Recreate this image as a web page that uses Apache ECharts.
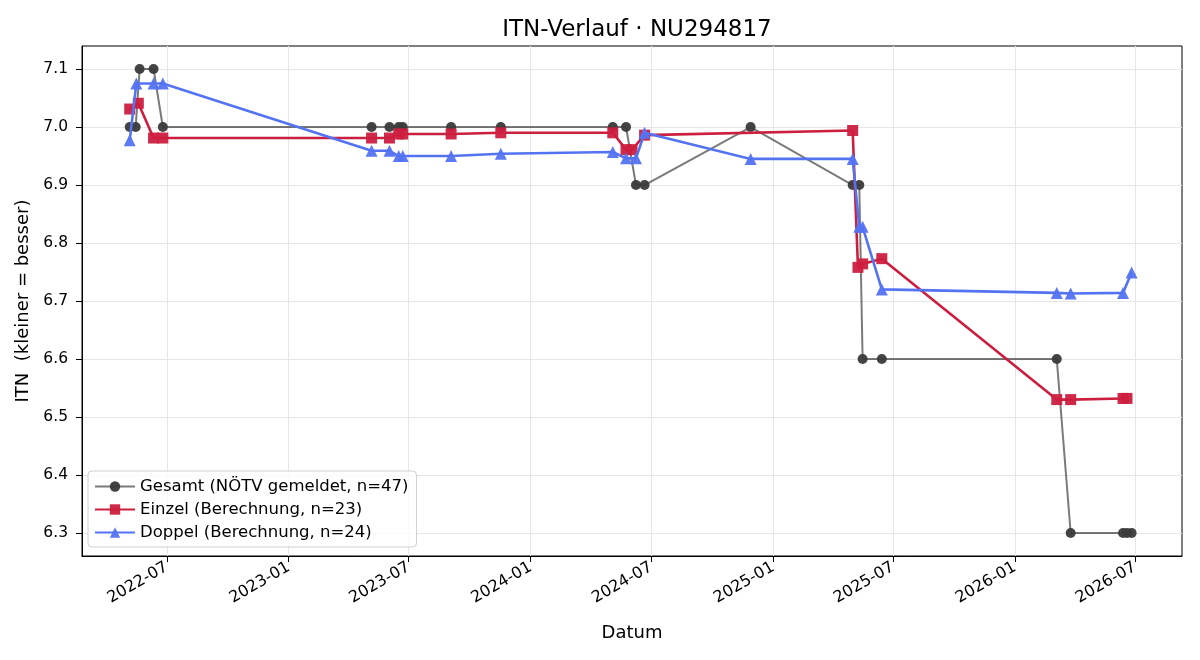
<!DOCTYPE html>
<html>
<head>
<meta charset="utf-8">
<script src="https://cdn.jsdelivr.net/npm/echarts@6/dist/echarts.min.js"></script>
<style>html,body{margin:0;padding:0;background:#fff;}#c{width:1200px;height:660px;}</style>
</head>
<body>
<div id="c"></div>
<script>
const gesamtDates = ['2022-05-06','2022-05-15','2022-05-21','2022-06-11','2022-06-25','2023-05-06','2023-06-02','2023-06-16','2023-06-22','2023-09-03','2023-11-17','2024-05-04','2024-05-24','2024-06-08','2024-06-21','2024-11-28','2025-05-01','2025-05-11','2025-05-16','2025-06-14','2026-03-05','2026-03-26','2026-06-13','2026-06-19','2026-06-26'];
const gesamtValues = [7.0,7.0,7.1,7.1,7.0,7.0,7.0,7.0,7.0,7.0,7.0,7.0,7.0,6.9,6.9,7.0,6.9,6.9,6.6,6.6,6.6,6.3,6.3,6.3,6.3];

const einzelDates = ['2022-05-06','2022-05-19','2022-06-11','2022-06-25','2023-05-06','2023-06-02','2023-06-16','2023-06-22','2023-09-03','2023-11-17','2024-05-04','2024-05-24','2024-06-02','2024-06-21','2025-05-01','2025-05-09','2025-05-16','2025-06-14','2026-03-05','2026-03-26','2026-06-13','2026-06-19'];
const einzelValues = [7.031,7.041,6.981,6.981,6.981,6.981,6.988,6.988,6.988,6.990,6.990,6.961,6.961,6.986,6.994,6.758,6.764,6.773,6.530,6.530,6.532,6.532];

const doppelDates = ['2022-05-06','2022-05-16','2022-06-11','2022-06-25','2023-05-06','2023-06-02','2023-06-16','2023-06-22','2023-09-03','2023-11-17','2024-05-04','2024-05-24','2024-06-08','2024-06-21','2024-11-28','2025-05-01','2025-05-11','2025-05-16','2025-06-14','2026-03-05','2026-03-26','2026-06-13','2026-06-26'];
const doppelValues = [6.977,7.075,7.075,7.075,6.959,6.959,6.950,6.950,6.950,6.954,6.957,6.946,6.946,6.990,6.945,6.945,6.828,6.828,6.720,6.714,6.713,6.714,6.749];

const xTickLabels = ['2022-07-01','2023-01-01','2023-07-01','2024-01-01','2024-07-01','2025-01-01','2025-07-01','2026-01-01','2026-07-01'];
const yTickLabels = [6.3,6.4,6.5,6.6,6.7,6.8,6.9,7.0,7.1];

const seriesNames = ['Gesamt (NÖTV gemeldet, n=47)','Einzel (Berechnung, n=23)','Doppel (Berechnung, n=24)'];

const ts = d => new Date(d + 'T00:00:00Z').getTime();
const pairs = (ds, vs) => ds.map((d, i) => [ts(d), vs[i]]);
const xTicks = xTickLabels.map(ts);
const fmtDate = v => { const d = new Date(v); return d.getUTCFullYear() + '-' + String(d.getUTCMonth() + 1).padStart(2, '0'); };

const FONT = 'DejaVu Sans';
const chart = echarts.init(document.getElementById('c'), null, {renderer: 'canvas'});
chart.setOption({
  animation: false,
  backgroundColor: '#fff',
  textStyle: {fontFamily: FONT},
  title: {
    text: 'ITN-Verlauf · NU294817',
    left: 632, top: 14, textAlign: 'center',
    textStyle: {fontFamily: FONT, fontSize: 23, fontWeight: 'normal', color: '#000'}
  },
  grid: {left: 82, right: 18, top: 46, bottom: 104, show: true, borderColor: '#000', borderWidth: 1, backgroundColor: 'transparent'},
  legend: {
    orient: 'vertical', left: 88, bottom: 113,
    itemWidth: 40, itemHeight: 13, itemGap: 6,
    padding: [7, 8, 6, 6],
    backgroundColor: 'rgba(255,255,255,0.8)',
    borderColor: '#d0d0d0', borderWidth: 1, borderRadius: 4,
    textStyle: {fontFamily: FONT, fontSize: 16.5, color: '#000'},
    data: seriesNames
  },
  xAxis: {
    type: 'value',
    name: 'Datum', nameLocation: 'middle', nameGap: 68,
    nameTextStyle: {fontFamily: FONT, fontSize: 18, color: '#000'},
    min: ts('2022-02-23'), max: ts('2026-09-10'),
    axisLine: {show: true, lineStyle: {color: '#000'}},
    axisTick: {show: true, length: 6, lineStyle: {color: '#000'}, customValues: xTicks},
    axisLabel: {
      customValues: xTicks, rotate: 30, fontFamily: FONT, fontSize: 16, color: '#000',
      margin: 10, formatter: fmtDate
    },
    splitLine: {show: true, lineStyle: {color: '#e6e6e6', width: 1}}
  },
  yAxis: {
    type: 'value',
    name: 'ITN  (kleiner = besser)', nameLocation: 'middle', nameGap: 47,
    nameTextStyle: {fontFamily: FONT, fontSize: 18, color: '#000'},
    min: 6.2603, max: 7.1397,
    axisLine: {show: true, lineStyle: {color: '#000'}},
    axisTick: {show: true, length: 6, lineStyle: {color: '#000'}, customValues: yTickLabels},
    axisLabel: {customValues: yTickLabels, fontFamily: FONT, fontSize: 15.5, color: '#000', margin: 14, formatter: v => v.toFixed(1)},
    splitLine: {show: true, lineStyle: {color: '#e6e6e6', width: 1}}
  },
  series: [
    {
      name: seriesNames[0], type: 'line', data: pairs(gesamtDates, gesamtValues),
      symbol: 'circle', symbolSize: 10, z: 2,
      lineStyle: {color: 'rgba(0,0,0,0.52)', width: 2},
      itemStyle: {color: '#3a3a3a', opacity: 0.95},
      color: '#6e6e6e'
    },
    {
      name: seriesNames[1], type: 'line', data: pairs(einzelDates, einzelValues),
      symbol: 'rect', symbolSize: 11, z: 3,
      lineStyle: {color: '#cc1f3f', width: 2.6},
      itemStyle: {color: '#cc1f3f', opacity: 0.95},
      color: '#cc1f3f'
    },
    {
      name: seriesNames[2], type: 'line', data: pairs(doppelDates, doppelValues),
      symbol: 'triangle', symbolSize: 12, z: 4,
      lineStyle: {color: '#5473f2', width: 2.6},
      itemStyle: {color: '#5473f2', opacity: 0.95},
      color: '#5473f2'
    }
  ]
});
</script>
</body>
</html>
